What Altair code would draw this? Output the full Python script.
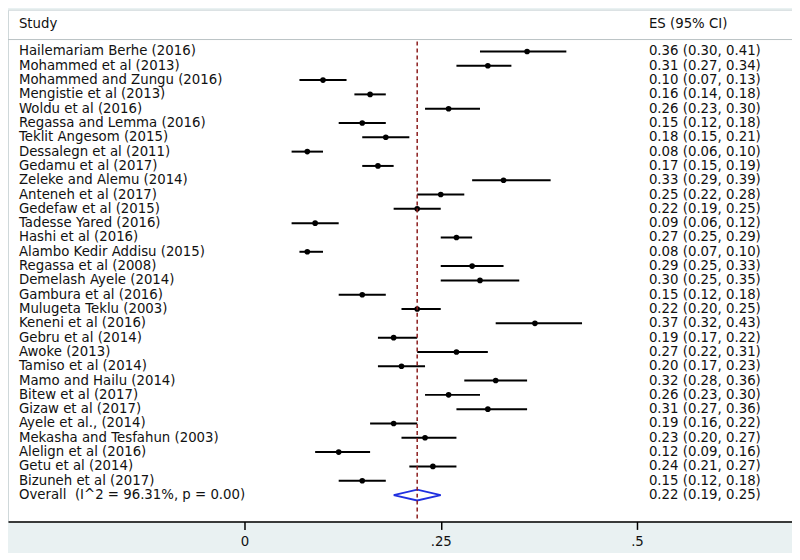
import altair as alt
import pandas as pd

studies = [
    "Hailemariam Berhe (2016)", "Mohammed et al (2013)", "Mohammed and Zungu (2016)",
    "Mengistie et al (2013)", "Woldu et al (2016)", "Regassa and Lemma (2016)",
    "Teklit Angesom (2015)", "Dessalegn et al (2011)", "Gedamu et al (2017)",
    "Zeleke and Alemu (2014)", "Anteneh et al (2017)", "Gedefaw et al (2015)",
    "Tadesse Yared (2016)", "Hashi et al (2016)", "Alambo Kedir Addisu (2015)",
    "Regassa et al (2008)", "Demelash Ayele (2014)", "Gambura et al (2016)",
    "Mulugeta Teklu (2003)", "Keneni et al (2016)", "Gebru et al (2014)",
    "Awoke (2013)", "Tamiso et al (2014)", "Mamo and Hailu (2014)",
    "Bitew et al (2017)", "Gizaw et al (2017)", "Ayele et al., (2014)",
    "Mekasha and Tesfahun (2003)", "Alelign et al (2016)", "Getu et al (2014)",
    "Bizuneh et al (2017)",
]
es = [0.36, 0.31, 0.10, 0.16, 0.26, 0.15, 0.18, 0.08, 0.17, 0.33, 0.25, 0.22, 0.09, 0.27, 0.08,
      0.29, 0.30, 0.15, 0.22, 0.37, 0.19, 0.27, 0.20, 0.32, 0.26, 0.31, 0.19, 0.23, 0.12, 0.24, 0.15]
lcl = [0.30, 0.27, 0.07, 0.14, 0.23, 0.12, 0.15, 0.06, 0.15, 0.29, 0.22, 0.19, 0.06, 0.25, 0.07,
       0.25, 0.25, 0.12, 0.20, 0.32, 0.17, 0.22, 0.17, 0.28, 0.23, 0.27, 0.16, 0.20, 0.09, 0.21, 0.12]
ucl = [0.41, 0.34, 0.13, 0.18, 0.30, 0.18, 0.21, 0.10, 0.19, 0.39, 0.28, 0.25, 0.12, 0.29, 0.10,
       0.33, 0.35, 0.18, 0.25, 0.43, 0.22, 0.31, 0.23, 0.36, 0.30, 0.36, 0.22, 0.27, 0.16, 0.27, 0.18]

overall_label = "Overall\u00a0 (I^2 = 96.31%, p = 0.00)"
overall_es, overall_lcl, overall_ucl = 0.22, 0.19, 0.25

tick_values = [0, 0.25, 0.5]
tick_labels = ["0", ".25", ".5"]

FONT = "DejaVu Sans"
FS = 13.4
TXT = "#111111"

n = len(studies)
df = pd.DataFrame({"study": studies, "es": es, "lcl": lcl, "ucl": ucl, "row": list(range(n))})
df["ci"] = [f"{e:.2f} ({l:.2f}, {u:.2f})" for e, l, u in zip(es, lcl, ucl)]

ov = pd.DataFrame({"study": [overall_label], "es": [overall_es], "lcl": [overall_lcl],
                   "ucl": [overall_ucl], "row": [n],
                   "ci": [f"{overall_es:.2f} ({overall_lcl:.2f}, {overall_ucl:.2f})"]})
all_df = pd.concat([df, ov], ignore_index=True)

h = 0.38
diamond = pd.DataFrame({
    "x": [overall_lcl, overall_es, overall_ucl, overall_es, overall_lcl],
    "y": [n, n - h, n, n + h, n],
    "o": [0, 1, 2, 3, 4],
})

label_expr = " : ".join(
    [f"datum.value == {v} ? '{t}'" for v, t in zip(tick_values[:-1], tick_labels[:-1])]
) + f" : '{tick_labels[-1]}'"

xs = alt.Scale(domain=[-0.30127, 0.69747], nice=False, zero=False)
ys = alt.Scale(domain=[-2.9167, 32.847], reverse=True, nice=False, zero=False)
xaxis = alt.Axis(values=tick_values, labelExpr=label_expr, tickSize=8, tickWidth=1.5,
                 domainWidth=1.5, domainColor="black", tickColor="black", labelColor=TXT,
                 labelFont=FONT, labelFontSize=FS, labelPadding=5, grid=False, title=None,
                 labelFlush=False)

def X(field):
    return alt.X(field, type="quantitative", scale=xs, axis=xaxis)

def Y(field):
    return alt.Y(field, type="quantitative", scale=ys, axis=None)

base = alt.Chart(df)

ci = base.mark_rule(color="black", strokeWidth=2).encode(x=X("lcl"), x2="ucl", y=Y("row"))
pts = base.mark_circle(color="black", size=32, opacity=1).encode(x=X("es"), y=Y("row"))

study_txt = alt.Chart(all_df).mark_text(align="left", baseline="middle", font=FONT,
                                        fontSize=FS, color=TXT).encode(
    x=alt.value(11), y=Y("row"), text="study")
ci_txt = alt.Chart(all_df).mark_text(align="left", baseline="middle", font=FONT,
                                     fontSize=FS, color=TXT).encode(
    x=alt.value(645), y=Y("row"), text="ci")

dia = alt.Chart(diamond).mark_line(color="#2030e0", strokeWidth=1.8).encode(
    x=X("x"), y=Y("y"), order="o")

ref = alt.Chart(ov).mark_rule(color="#8b1c1c", strokeDash=[4, 3], strokeWidth=1.5).encode(
    x=X("es"), y=alt.value(32), y2=alt.value(515))

hdr1 = alt.Chart(ov).mark_text(text="Study", align="left", baseline="middle", font=FONT,
                               fontSize=FS, color=TXT).encode(x=alt.value(11), y=alt.value(14))
hdr2 = alt.Chart(ov).mark_text(text="ES (95% CI)", align="left", baseline="middle", font=FONT,
                               fontSize=FS, color=TXT).encode(x=alt.value(645), y=alt.value(14))
hdr_line = alt.Chart(ov).mark_rule(color="#b9c3c5", strokeWidth=1).encode(
    x=alt.value(0), x2=alt.value(789), y=alt.value(30))

chart = alt.layer(ci, pts, dia, ref, study_txt, ci_txt, hdr1, hdr2, hdr_line).properties(
    width=789, height=515,
    padding={"left": 0, "top": 0, "right": 0, "bottom": 30},
    autosize="none",
    background="#e9f1f2",
).configure_view(fill="white", stroke="#cfd8da")

chart.save("out.html", embed_options={"renderer": "svg", "actions": False})
